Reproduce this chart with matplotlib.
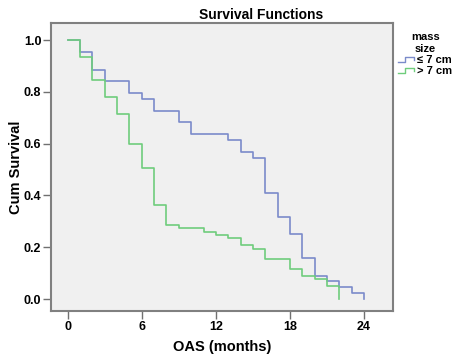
import matplotlib
matplotlib.use("Agg")
import matplotlib.pyplot as plt
from matplotlib.legend_handler import HandlerBase
from matplotlib.lines import Line2D

plt.rcParams['font.family'] = ['Liberation Sans', 'DejaVu Sans']

# Kaplan-Meier steps
small_t = [0, 1, 2, 3, 5, 6, 7, 9, 10, 13, 14, 15, 16, 17, 18, 19, 20, 21, 22, 23, 24]
small_s = [1.0, 0.955, 0.886, 0.841, 0.795, 0.773, 0.727, 0.682, 0.636, 0.614, 0.568,
           0.545, 0.409, 0.318, 0.25, 0.159, 0.091, 0.068, 0.045, 0.023, 0.0]
large_t = [0, 1, 2, 3, 4, 5, 6, 7, 8, 9, 11, 12, 13, 14, 15, 16, 18, 19, 20, 21, 22]
large_s = [1.0, 0.935, 0.844, 0.779, 0.714, 0.597, 0.506, 0.364, 0.286, 0.273, 0.260,
           0.247, 0.234, 0.208, 0.195, 0.156, 0.117, 0.091, 0.078, 0.052, 0.0]
labels = ['\u2264 7 cm', '> 7 cm']
colors = ['#7b8bca', '#6fcd7c']
xticks = [0, 6, 12, 18, 24]
yticks = [0.0, 0.2, 0.4, 0.6, 0.8, 1.0]


class StepHandler(HandlerBase):
    # little step glyph like the SPSS legend
    def create_artists(self, legend, orig, xd, yd, w, h, fontsize, trans):
        xs = [xd, xd + w * 0.45, xd + w * 0.45, xd + w, xd + w]
        ys = [yd + h * 0.2, yd + h * 0.2, yd + h * 0.75, yd + h * 0.75, yd + h * 0.45]
        ln = Line2D(xs, ys, color=orig.get_color(), lw=1.0, transform=trans)
        return [ln]


fig = plt.figure(figsize=(4.64, 3.61), dpi=100)
ax = fig.add_axes([0.11, 0.1385, 0.737, 0.798])
ax.set_facecolor('#f0f0f0')

h1, = ax.step(small_t, small_s, where='post', color=colors[0], lw=1.2)
h2, = ax.step(large_t, large_s, where='post', color=colors[1], lw=1.2)

ax.set_xlim(-1.35, 26.35)
ax.set_ylim(-0.046, 1.066)
ax.set_xticks(xticks)
ax.set_yticks(yticks)
ax.set_yticklabels([f'{v:.1f}' for v in yticks])
ax.tick_params(direction='out', length=6, width=1, color='#707070', labelsize=9, pad=1)
for lab in ax.get_xticklabels() + ax.get_yticklabels():
    lab.set_fontweight('bold')
for sp in ax.spines.values():
    sp.set_color('#808080')
    sp.set_linewidth(1.5)

ax.set_xlabel('OAS (months)', fontsize=10.5, fontweight='bold', labelpad=5)
ax.set_ylabel('Cum Survival', fontsize=10.5, fontweight='bold')
ax.yaxis.set_label_coords(-0.102, 0.5)
ax.yaxis.label.set_va('center')
fig.text(261 / 464, 1 - 15 / 361, 'Survival Functions', fontsize=10, fontweight='bold',
         ha='center', va='center')

leg = ax.legend([h1, h2], labels, title='mass\nsize', loc='upper left',
                bbox_to_anchor=(1.003, 0.985), frameon=False, fontsize=8,
                handler_map={Line2D: StepHandler()}, handlelength=1.4,
                handletextpad=0.3, labelspacing=0.1, borderaxespad=0)
leg.get_title().set_fontweight('bold')
leg.get_title().set_fontsize(8)
leg.get_title().set_linespacing(1.3)
leg.get_title().set_multialignment('center')
for t in leg.get_texts():
    t.set_fontweight('bold')

fig.savefig('out.png', dpi=100)
